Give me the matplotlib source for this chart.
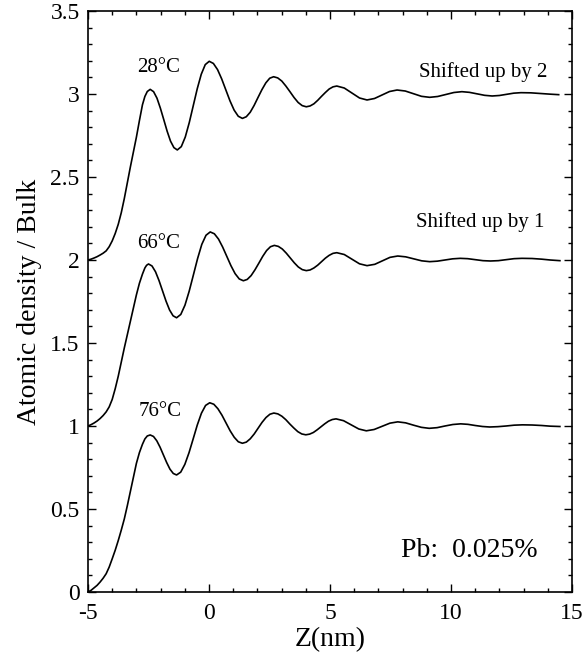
import matplotlib
matplotlib.use("Agg")
import matplotlib.pyplot as plt
from matplotlib.ticker import MultipleLocator

# density profiles (values as plotted, shifts included)
z_28 = [-5.0, -4.875, -4.75, -4.625, -4.5, -4.375, -4.25, -4.125, -4.0, -3.875, -3.75,
        -3.625, -3.5, -3.375, -3.25, -3.125, -3.0, -2.875, -2.75, -2.65, -2.55, -2.43,
        -2.29, -2.15, -2.01, -1.87, -1.73, -1.59, -1.45, -1.31,
        -1.145, -0.98, -0.815, -0.65, -0.485, -0.32, -0.155, 0.01,
        0.181, 0.353, 0.524, 0.695, 0.866, 1.038, 1.209, 1.38,
        1.541, 1.703, 1.864, 2.025, 2.186, 2.348, 2.509, 2.67,
        2.839, 3.008, 3.176, 3.345, 3.514, 3.683, 3.851, 4.02,
        4.178, 4.335, 4.493, 4.65, 4.808, 4.965, 5.123, 5.28,
        5.59, 5.905, 6.22, 6.53, 6.84, 7.15, 7.46, 7.77,
        8.11, 8.445, 8.78, 9.12, 9.45, 9.785, 10.12, 10.45,
        10.76, 11.075, 11.39, 11.7, 12.0, 12.295, 12.59, 12.89,
        13.3, 13.7, 14.1, 14.45]
rho_28 = [2.0, 2.005, 2.012, 2.02, 2.03, 2.041, 2.055, 2.08, 2.115, 2.16, 2.215,
          2.285, 2.37, 2.465, 2.56, 2.65, 2.74, 2.84, 2.935, 2.985, 3.015, 3.028,
          3.014, 2.975, 2.915, 2.846, 2.776, 2.716, 2.677, 2.663,
          2.683, 2.741, 2.828, 2.930, 3.032, 3.119, 3.177, 3.197,
          3.184, 3.147, 3.091, 3.025, 2.959, 2.903, 2.866, 2.853,
          2.863, 2.890, 2.931, 2.979, 3.026, 3.067, 3.095, 3.104,
          3.097, 3.078, 3.048, 3.014, 2.979, 2.949, 2.930, 2.923,
          2.928, 2.941, 2.962, 2.986, 3.009, 3.030, 3.043, 3.048,
          3.036, 3.006, 2.976, 2.964, 2.973, 2.994, 3.015, 3.024,
          3.018, 3.002, 2.986, 2.980, 2.985, 2.997, 3.009, 3.014,
          3.010, 3.001, 2.992, 2.988, 2.991, 2.998, 3.005, 3.008,
          3.007, 3.003, 2.999, 2.996]

z_66 = [-5.0, -4.875, -4.75, -4.625, -4.5, -4.375, -4.25, -4.125, -4.0, -3.875, -3.75,
        -3.625, -3.5, -3.375, -3.25, -3.125, -3.0, -2.875, -2.75, -2.65, -2.58, -2.5,
        -2.355, -2.21, -2.065, -1.92, -1.775, -1.63, -1.485, -1.34,
        -1.166, -0.993, -0.819, -0.645, -0.471, -0.298, -0.124, 0.05,
        0.221, 0.393, 0.564, 0.735, 0.906, 1.078, 1.249, 1.42,
        1.58, 1.74, 1.90, 2.06, 2.22, 2.38, 2.54, 2.7,
        2.865, 3.03, 3.195, 3.36, 3.525, 3.69, 3.855, 4.02,
        4.178, 4.335, 4.493, 4.65, 4.808, 4.965, 5.123, 5.28,
        5.59, 5.905, 6.22, 6.53, 6.85, 7.165, 7.48, 7.8,
        8.13, 8.46, 8.79, 9.12, 9.435, 9.75, 10.065, 10.38,
        10.69, 11.005, 11.32, 11.63, 11.955, 12.28, 12.605, 12.93,
        13.35, 13.75, 14.1, 14.5]
rho_66 = [1.0, 1.008, 1.018, 1.03, 1.045, 1.063, 1.085, 1.115, 1.16, 1.225, 1.3,
          1.385, 1.47, 1.55, 1.63, 1.71, 1.79, 1.86, 1.915, 1.952, 1.968, 1.976,
          1.964, 1.929, 1.876, 1.814, 1.752, 1.699, 1.664, 1.652,
          1.672, 1.728, 1.812, 1.910, 2.009, 2.094, 2.149, 2.169,
          2.158, 2.126, 2.078, 2.022, 1.966, 1.918, 1.886, 1.875,
          1.883, 1.906, 1.941, 1.981, 2.022, 2.057, 2.080, 2.088,
          2.082, 2.066, 2.041, 2.012, 1.983, 1.958, 1.942, 1.936,
          1.940, 1.952, 1.969, 1.990, 2.011, 2.028, 2.040, 2.044,
          2.033, 2.005, 1.977, 1.966, 1.974, 1.995, 2.016, 2.024,
          2.019, 2.007, 1.995, 1.990, 1.993, 2.000, 2.007, 2.010,
          2.008, 2.002, 1.996, 1.994, 1.996, 2.002, 2.008, 2.010,
          2.009, 2.005, 2.000, 1.996]

z_76 = [-5.0, -4.875, -4.75, -4.625, -4.5, -4.375, -4.25, -4.125, -4.0, -3.875, -3.75,
        -3.625, -3.5, -3.375, -3.25, -3.125, -3.0, -2.875, -2.75, -2.65, -2.55, -2.43,
        -2.294, -2.158, -2.021, -1.885, -1.749, -1.613, -1.476, -1.34,
        -1.169, -0.998, -0.826, -0.655, -0.484, -0.313, -0.141, 0.03,
        0.199, 0.368, 0.536, 0.705, 0.874, 1.043, 1.211, 1.38,
        1.543, 1.705, 1.868, 2.03, 2.193, 2.355, 2.518, 2.68,
        2.845, 3.01, 3.175, 3.34, 3.505, 3.67, 3.835, 4.0,
        4.156, 4.313, 4.469, 4.625, 4.781, 4.938, 5.094, 5.25,
        5.56, 5.875, 6.19, 6.5, 6.825, 7.15, 7.475, 7.8,
        8.125, 8.45, 8.775, 9.1, 9.425, 9.75, 10.075, 10.4,
        10.7, 11.0, 11.3, 11.6, 11.94, 12.275, 12.61, 12.95,
        13.35, 13.75, 14.1, 14.5]
rho_76 = [0.0, 0.01, 0.025, 0.04, 0.06, 0.083, 0.11, 0.15, 0.2, 0.252, 0.31,
          0.373, 0.44, 0.52, 0.605, 0.69, 0.775, 0.84, 0.89, 0.922, 0.94, 0.946,
          0.937, 0.911, 0.872, 0.826, 0.780, 0.740, 0.714, 0.705,
          0.722, 0.769, 0.839, 0.922, 1.006, 1.077, 1.124, 1.14,
          1.131, 1.104, 1.065, 1.018, 0.971, 0.932, 0.905, 0.896,
          0.903, 0.923, 0.952, 0.987, 1.022, 1.051, 1.071, 1.078,
          1.073, 1.059, 1.038, 1.012, 0.988, 0.966, 0.952, 0.947,
          0.951, 0.961, 0.977, 0.995, 1.013, 1.029, 1.039, 1.043,
          1.032, 1.007, 0.982, 0.971, 0.979, 0.998, 1.017, 1.025,
          1.019, 1.005, 0.992, 0.986, 0.990, 1.000, 1.009, 1.013,
          1.010, 1.003, 0.997, 0.994, 0.996, 1.000, 1.005, 1.007,
          1.006, 1.003, 0.999, 0.997]

temp_labels = ["28°C", "66°C", "76°C"]
temp_pos = [(-2.1, 3.16), (-2.1, 2.10), (-2.0, 1.09)]
shift_labels = ["Shifted up by 2", "Shifted up by 1"]
shift_pos = [(11.35, 3.13), (11.2, 2.23)]

plt.rcParams['font.family'] = ['Liberation Serif', 'DejaVu Serif']
plt.rcParams['axes.unicode_minus'] = False

fig = plt.figure(figsize=(5.84, 6.58), dpi=100)
ax = fig.add_axes([88 / 584, 66 / 658, 484 / 584, 581 / 658])

for z, rho in [(z_28, rho_28), (z_66, rho_66), (z_76, rho_76)]:
    ax.plot(z, rho, color='black', linewidth=1.2)

for txt, (x, y) in zip(temp_labels, temp_pos):
    ax.text(x, y, txt, ha='center', va='center', fontsize=15)
for txt, (x, y) in zip(shift_labels, shift_pos):
    ax.text(x, y, txt, ha='center', va='center', fontsize=15)
ax.text(10.75, 0.25, "Pb:  0.025%", ha='center', va='center', fontsize=20)

ax.set_xlim(-5, 15)
ax.set_ylim(0, 3.5)
ax.xaxis.set_minor_locator(MultipleLocator(1))
ax.yaxis.set_minor_locator(MultipleLocator(0.1))
ax.set_xticks([-5, 0, 5, 10, 15])
ax.set_xticklabels(["-5", "0", "5", "10", "15"])
ax.set_yticks([0, 0.5, 1, 1.5, 2, 2.5, 3, 3.5])
ax.set_yticklabels(["0", "0.5", "1", "1.5", "2", "2.5", "3", "3.5"])
ax.tick_params(which='both', direction='in', top=True, right=True, width=1.0)
ax.tick_params(which='major', length=6, labelsize=17)
ax.tick_params(which='minor', length=3)
ax.tick_params(axis='x', pad=8)
ax.tick_params(axis='y', pad=6)
for s in ax.spines.values():
    s.set_linewidth(1.2)

ax.set_xlabel("Z(nm)", fontsize=20, labelpad=2)
ax.set_ylabel("Atomic density / Bulk", fontsize=20, labelpad=6)

fig.savefig("out.png", dpi=100)
